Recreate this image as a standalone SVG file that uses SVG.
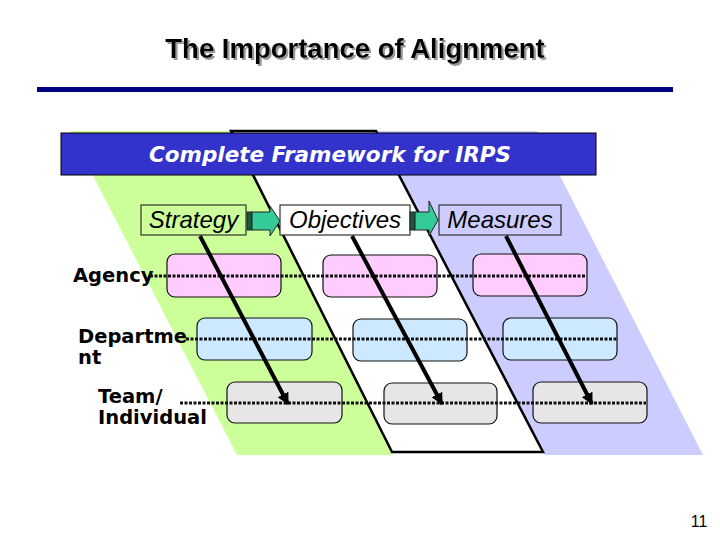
<svg xmlns="http://www.w3.org/2000/svg" width="720" height="540" viewBox="0 0 720 540">
<style>
.title{font-family:"Liberation Sans",Arial,sans-serif;font-weight:bold;font-size:27.5px}
.hdr{font-family:"DejaVu Sans",Verdana,sans-serif;font-style:italic;font-weight:bold;font-size:21.5px;fill:#fff}
.col{font-family:"Liberation Sans",Arial,sans-serif;font-style:italic;font-size:24px;fill:#000}
.row{font-family:"DejaVu Sans",Verdana,sans-serif;font-weight:bold;font-size:19.5px;fill:#000}
.colbox{stroke:#333;stroke-width:1.2}
.box{stroke:#111;stroke-width:1.2}
.pink{fill:#ffccff}.blue{fill:#cce9ff}.gray{fill:#e6e6e6}
.dot{stroke:#111;stroke-width:3;stroke-dasharray:3 1.5;fill:none}
.diag{stroke:#000;stroke-width:4;fill:none;marker-end:url(#ah)}
.blk{fill:#33cc99;stroke:#222;stroke-width:1}
</style>
<defs>
<marker id="ah" viewBox="0 0 10 10" refX="9" refY="5" markerWidth="3" markerHeight="3" orient="auto" markerUnits="strokeWidth">
<path d="M0,0 L10,5 L0,10 z" fill="#000"/>
</marker>
<filter id="shadow" x="-5%" y="-20%" width="110%" height="140%">
<feDropShadow dx="2" dy="2" stdDeviation="0.6" flood-color="#999" flood-opacity="1"/>
</filter>
</defs>
<rect width="720" height="540" fill="#fff"/>
<g id="title">
<text x="355" y="58" text-anchor="middle" class="title" fill="#000" filter="url(#shadow)">The Importance of Alignment</text>
<rect x="37" y="87" width="636" height="5" fill="#000080"/>
</g>
<g id="background">
<polygon points="70,131 231,131 392,455 237,455" fill="#ccff99"/>
<polygon points="376,131 537,131 703,455 545,455" fill="#ccccff"/>
<polygon points="231,131 376,131 543,452 392,452" fill="#fff" stroke="#000" stroke-width="2.5" stroke-linejoin="miter"/>
</g>
<g id="header">
<rect x="61" y="133" width="535" height="42" fill="#3333cc" stroke="#000" stroke-width="1"/>
<text x="330" y="162" text-anchor="middle" class="hdr">Complete Framework for IRPS</text>
</g>
<g id="strategy">
<rect x="141" y="205" width="105" height="30" fill="#ccff99" class="colbox"/>
<text x="193.5" y="228" text-anchor="middle" class="col">Strategy</text>
</g>
<g id="objectives">
<rect x="280" y="205" width="130" height="30" fill="#fff" class="colbox"/>
<text x="345" y="228" text-anchor="middle" class="col">Objectives</text>
</g>
<g id="measures">
<rect x="439" y="205" width="122" height="30" fill="#ccccff" class="colbox"/>
<text x="500" y="228" text-anchor="middle" class="col">Measures</text>
</g>
<g id="agency-label"><text x="73" y="282" class="row">Agency</text></g>
<g id="department-label"><text x="78" y="343" class="row">Departme</text><text x="78" y="364" class="row">nt</text></g>
<g id="team-label"><text x="98" y="403" class="row">Team/</text><text x="98" y="424" class="row">Individual</text></g>
<g id="agency-strategy"><rect x="167" y="254" width="114" height="43" rx="8" class="box pink"/></g>
<g id="agency-objectives"><rect x="323" y="255" width="114" height="42" rx="8" class="box pink"/></g>
<g id="agency-measures"><rect x="473" y="254" width="114" height="42" rx="8" class="box pink"/></g>
<g id="dept-strategy"><rect x="197" y="318" width="115" height="42" rx="8" class="box blue"/></g>
<g id="dept-objectives"><rect x="353" y="319" width="114" height="42" rx="8" class="box blue"/></g>
<g id="dept-measures"><rect x="503" y="318" width="114" height="42" rx="8" class="box blue"/></g>
<g id="team-strategy"><rect x="227" y="382" width="115" height="41" rx="8" class="box gray"/></g>
<g id="team-objectives"><rect x="384" y="383" width="113" height="41" rx="8" class="box gray"/></g>
<g id="team-measures"><rect x="533" y="382" width="114" height="41" rx="8" class="box gray"/></g>
<g id="connectors">
<line x1="150" y1="276" x2="585" y2="276" class="dot"/>
<line x1="186" y1="339" x2="617" y2="339" class="dot"/>
<line x1="180" y1="403" x2="646" y2="403" class="dot"/>
<line x1="200" y1="236" x2="288" y2="404" class="diag"/>
<line x1="352" y1="236" x2="442" y2="404" class="diag"/>
<line x1="506" y1="236" x2="592" y2="404" class="diag"/>
<g id="arrow-strategy-objectives">
<rect x="247" y="212" width="5" height="18" fill="#1a5a40" stroke="#222" stroke-width="1"/>
<path d="M252,212 H270 V206 L280,221 L270,236 V230 H252 Z" class="blk"/>
</g>
<g id="arrow-objectives-measures">
<rect x="410" y="212" width="5" height="18" fill="#1a5a40" stroke="#222" stroke-width="1"/>
<path d="M415,212 H429 V201 L438,220 L429,236 V230 H415 Z" class="blk"/>
</g>
</g>
<text x="699" y="527" text-anchor="middle" font-family="Liberation Sans,Arial,sans-serif" font-size="16">11</text>
</svg>
